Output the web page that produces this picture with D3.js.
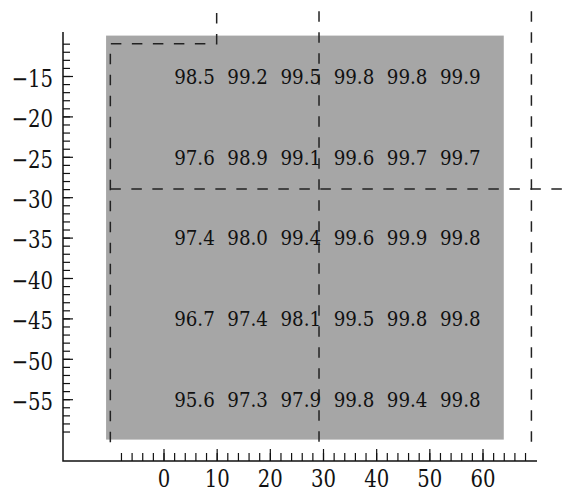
<!DOCTYPE html>
<html>
<head>
<meta charset="utf-8">
<script src="https://cdn.jsdelivr.net/npm/d3@7"></script>
<style>
  body { margin: 0; background: #fff; }
  svg { display: block; }
</style>
</head>
<body>
<svg width="573" height="491"></svg>
<script>
  (function(){
    'use strict';

    // cell label positions (left edge x, centre y) and values
    var colX = [2, 12, 22, 32, 42, 52];
    var rowY = [-15, -25, -35, -45, -55];
    var values = [
      [98.5, 99.2, 99.5, 99.8, 99.8, 99.9],
      [97.6, 98.9, 99.1, 99.6, 99.7, 99.7],
      [97.4, 98.0, 99.4, 99.6, 99.9, 99.8],
      [96.7, 97.4, 98.1, 99.5, 99.8, 99.8],
      [95.6, 97.3, 97.9, 99.8, 99.4, 99.8]
    ];

    // axis ticks
    var xMajor = [0, 10, 20, 30, 40, 50, 60];
    var xMinor = d3.range(-8, 69, 2);
    var yMajor = [-15, -20, -25, -30, -35, -40, -45, -50, -55];
    var yMinor = d3.range(-59, -10, 1);

    // shaded region and dashed partition lines
    var region = {x0: -10.8, x1: 64, y0: -10, y1: -60};
    var dashed = [
      [[10, -7.2], [10, -11], [-10, -11], [-10, -60.7]],
      [[29.25, -7], [29.25, -60.7]],
      [[69.2, -7], [69.2, -60.7]],
      [[-10, -29], [76, -29]]
    ];

    var spine = {left: 63, bottom: 461, top: 32, right: 537};
    var FONT = 'DejaVu Serif';
    var SQ_VAL = 0.87;   // horizontal squeeze, to get close to Times widths
    var SQ_TICK = 0.82;

    var svg = d3.select('svg');

    var x = d3.scaleLinear().domain([0, 60]).range([163.5, 482.5]);
    var y = d3.scaleLinear().domain([-15, -55]).range([76, 399.2]);

    svg.append('rect')
      .attr('x', x(region.x0))
      .attr('y', y(region.y0))
      .attr('width', x(region.x1) - x(region.x0))
      .attr('height', y(region.y1) - y(region.y0))
      .attr('fill', '#a6a6a6');

    var line = d3.line()
      .x(function(d) { return x(d[0]); })
      .y(function(d) { return y(d[1]); });

    svg.selectAll('path.dash')
      .data(dashed)
      .enter()
      .append('path')
      .attr('class', 'dash')
      .attr('d', line)
      .attr('fill', 'none')
      .attr('stroke', '#222')
      .attr('stroke-width', 1.5)
      .attr('stroke-dasharray', '10.5,10.5');

    // values
    rowY.forEach(function(ry, i) {
      svg.selectAll(null)
        .data(values[i])
        .enter()
        .append('text')
        .attr('transform', function(d, j) {
          return 'translate(' + x(colX[j]) + ',' + (y(ry) + 7.7) + ') scale(' + SQ_VAL + ',1)';
        })
        .attr('font-family', FONT)
        .attr('font-size', 21)
        .attr('fill', '#111')
        .text(function(d) { return d.toFixed(1); });
    });

    // spines
    svg.append('path')
      .attr('d', 'M' + spine.left + ',' + spine.top + 'V' + spine.bottom + 'H' + spine.right)
      .attr('fill', 'none')
      .attr('stroke', '#111')
      .attr('stroke-width', 1.5);

    // x axis: minor + major ticks, pointing inward
    var gx = svg.append('g').attr('transform', 'translate(0,' + spine.bottom + ')');
    gx.append('g')
      .call(d3.axisBottom(x).tickValues(xMinor).tickSize(-8).tickFormat(''));
    gx.append('g')
      .call(d3.axisBottom(x).tickValues(xMajor).tickSize(-12)
        .tickFormat(function(d) { return d; }));
    gx.selectAll('.domain').remove();
    gx.selectAll('line').attr('stroke', '#111').attr('stroke-width', 1.2);
    gx.selectAll('text')
      .attr('font-family', FONT)
      .attr('font-size', 24)
      .attr('fill', '#111')
      .attr('dy', '0')
      .attr('y', 0)
      .attr('transform', 'translate(0,26) scale(' + SQ_TICK + ',1)');

    // y axis
    var gy = svg.append('g').attr('transform', 'translate(' + spine.left + ',0)');
    gy.append('g')
      .call(d3.axisLeft(y).tickValues(yMinor).tickSize(-7).tickFormat(''));
    gy.append('g')
      .call(d3.axisLeft(y).tickValues(yMajor).tickSize(-10)
        .tickFormat(function(d) { return '\u2212' + Math.abs(d); }));
    gy.selectAll('.domain').remove();
    gy.selectAll('line').attr('stroke', '#111').attr('stroke-width', 1.2);
    gy.selectAll('text')
      .attr('font-family', FONT)
      .attr('font-size', 24)
      .attr('fill', '#111')
      .attr('x', 0)
      .attr('dy', '0')
      .attr('transform', 'translate(-10,10.3) scale(' + SQ_TICK + ',1)');
  })();
</script>
</body>
</html>
